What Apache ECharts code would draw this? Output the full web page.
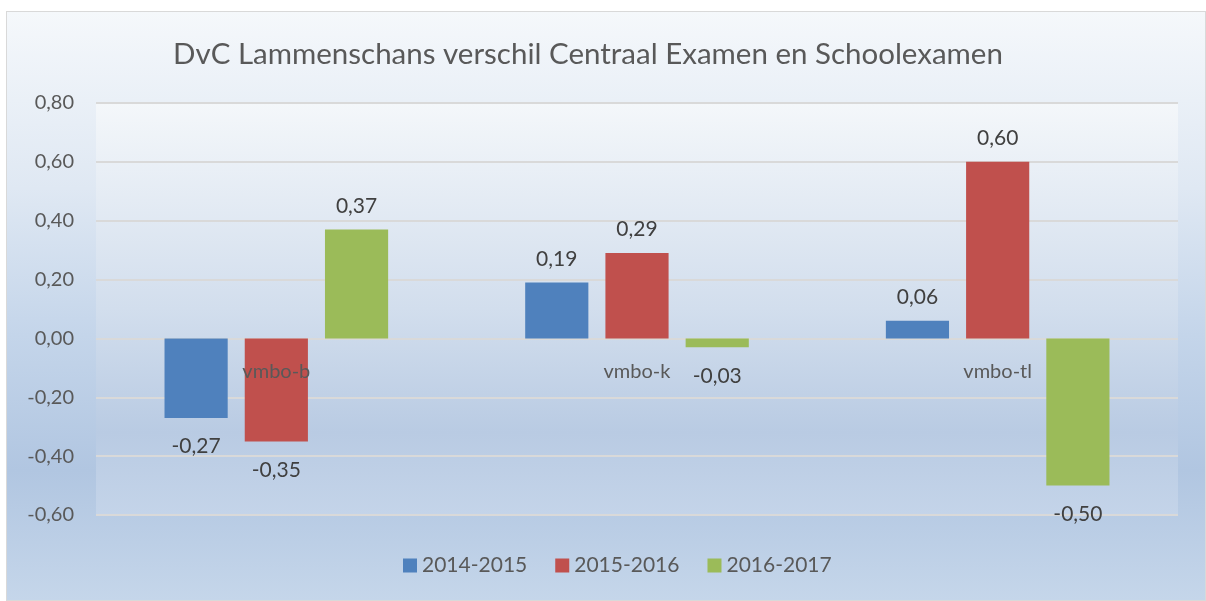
<!DOCTYPE html>
<html>
<head>
<meta charset="utf-8">
<script src="https://cdn.jsdelivr.net/npm/echarts@6/dist/echarts.min.js"></script>
<style>
  html, body { margin: 0; padding: 0; background: #fff; }
  #frame {
    position: absolute; left: 6px; top: 11px; width: 1198px; height: 588px;
    border: 1px solid #d9d9d9;
    background: linear-gradient(to bottom, #f5f8fb 0%, #dfe8f3 30%, #c4d5ea 55%, #b1c6e1 78%, #c5d6ea 100%);
  }
  #main { position: absolute; left: 0; top: 0; width: 1206px; height: 601px; }
</style>
</head>
<body>
<div id="frame"></div>
<div id="main"></div>
<script>
const categories = ['vmbo-b', 'vmbo-k', 'vmbo-tl']
const seriesNames = ['2014-2015', '2015-2016', '2016-2017']
const v2014 = [-0.27, 0.19, 0.06]
const v2015 = [-0.35, 0.29, 0.60]
const v2016 = [0.37, -0.03, -0.50]
const colors = ['#4f81bd', '#c0504d', '#9bbb59']

const fmt = v => v.toFixed(2).replace('.', ',')
const font = 'Lato, "Open Sans", sans-serif'

function makeSeries(name, values, i) {
    return {
        name: name,
        type: 'bar',
        barGap: '27%',
        barCategoryGap: '38%',
        itemStyle: { color: colors[i] },
        label: {
            show: true,
            fontFamily: font,
            fontSize: 21,
            color: '#404040',
            formatter: p => fmt(p.value)
        },
        data: values.map(v => ({
            value: v,
            label: v < 0 ? { position: 'bottom', distance: 18 } : { position: 'top', distance: 13 }
        }))
    }
}

let chart = echarts.init(document.getElementById('main'))
chart.setOption({
    animation: false,
    color: colors,
    title: {
        text: 'DvC Lammenschans verschil Centraal Examen en Schoolexamen',
        left: 583,
        top: 34,
        textAlign: 'center',
        textStyle: { fontFamily: font, fontSize: 29.5, fontWeight: 'normal', color: '#595959' }
    },
    legend: {
        data: seriesNames,
        bottom: 20,
        left: 398,
        itemWidth: 14,
        itemHeight: 14,
        itemGap: 28,
        icon: 'rect',
        textStyle: { fontFamily: font, fontSize: 21, color: '#595959' }
    },
    grid: {
        left: 96,
        right: 28,
        top: 103,
        bottom: 86,
        show: true,
        borderWidth: 0,
        backgroundColor: new echarts.graphic.LinearGradient(0, 0, 0, 1, [
            { offset: 0, color: '#f4f7fa' },
            { offset: 0.5, color: '#d2deed' },
            { offset: 0.8, color: '#b9cbe3' },
            { offset: 1, color: '#c4d4e9' }
        ])
    },
    xAxis: {
        type: 'category',
        data: categories,
        z: 10,
        axisLine: { show: false },
        axisTick: { show: false },
        axisLabel: { margin: 23, fontFamily: font, fontSize: 20, color: '#595959' }
    },
    yAxis: {
        type: 'value',
        min: -0.6,
        max: 0.8,
        interval: 0.2,
        axisLine: { show: false },
        axisTick: { show: false },
        splitLine: { lineStyle: { color: '#d9d9d9', width: 2 } },
        axisLabel: { margin: 22, fontFamily: font, fontSize: 20, color: '#595959', formatter: fmt }
    },
    series: [
        makeSeries(seriesNames[0], v2014, 0),
        makeSeries(seriesNames[1], v2015, 1),
        makeSeries(seriesNames[2], v2016, 2)
    ]
})

// move the category labels up to the zero line
const yZero = chart.convertToPixel({ yAxisIndex: 0 }, 0)
const yMin = chart.convertToPixel({ yAxisIndex: 0 }, -0.6)
chart.setOption({ xAxis: { offset: -(yMin - yZero) } })
</script>
</body>
</html>
